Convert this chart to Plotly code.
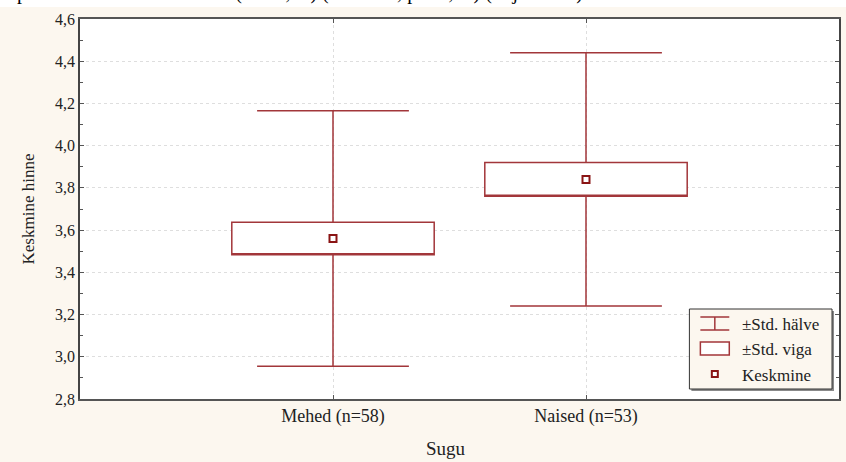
import plotly.graph_objects as go

# ---- data ----
categories = ["Mehed (n=58)", "Naised (n=53)"]
means = [3.56, 3.84]
std_err = [0.077, 0.08]
std_dev = [0.605, 0.60]

y_ticks = [2.8, 3.0, 3.2, 3.4, 3.6, 3.8, 4.0, 4.2, 4.4, 4.6]

legend_labels = ["±Std. hälve", "±Std. viga", "Keskmine"]
x_title = "Sugu"
y_title = "Keskmine hinne"
top_text = "üp  hinnete keskmine erines (t = -2,35) (df = 109; p = 0,02) (vt joonis 1)."

# ---- derived stats ----
q1 = [m - s for m, s in zip(means, std_err)]
q3 = [m + s for m, s in zip(means, std_err)]
lo = [m - s for m, s in zip(means, std_dev)]
hi = [m + s for m, s in zip(means, std_dev)]

RED = "#A2363A"
DARK = "#8A1414"
FONT = "Liberation Serif, Times New Roman, serif"
BG = "#FCF7EF"
TXT = "#222222"

W, H = 846, 462
ML, MR, MT, MB = 80, 5, 19, 63
PW, PH = W - ML - MR, H - MT - MB


def xp(px):
    return (px - ML) / PW


def yp(py):
    return (H - MB - py) / PH


fig = go.Figure()

fig.add_trace(go.Box(
    x=categories,
    q1=q1, median=q1, q3=q3,
    lowerfence=lo, upperfence=hi,
    width=0.8, whiskerwidth=0.75,
    fillcolor="white",
    line=dict(color=RED, width=1.5),
    boxpoints=False,
    hoverinfo="skip",
    showlegend=False,
))

fig.add_trace(go.Scatter(
    x=categories, y=means, mode="markers",
    marker=dict(symbol="square-open", size=7, color=DARK, line=dict(width=2, color=DARK)),
    showlegend=False, hoverinfo="skip",
))

shapes = []
annotations = []

# white strip at top of picture with clipped document text
shapes.append(dict(type="rect", xref="paper", yref="paper",
                   x0=xp(-10), x1=xp(W + 10), y0=yp(7), y1=yp(-10),
                   fillcolor="white", line=dict(width=0), layer="above"))
annotations.append(dict(xref="paper", yref="paper", x=xp(5), y=yp(6),
                        xanchor="left", yanchor="bottom", showarrow=False,
                        text=top_text, font=dict(family=FONT, size=20, color="black")))

# custom legend
lx0, lx1, ly0, ly1 = 691, 834, 309, 389
shapes.append(dict(type="rect", xref="paper", yref="paper",
                   x0=xp(lx0 + 2), x1=xp(lx1 + 2), y0=yp(ly1 + 2), y1=yp(ly0 + 2),
                   fillcolor="#8a8a8a", line=dict(width=0), layer="above"))
shapes.append(dict(type="rect", xref="paper", yref="paper",
                   x0=xp(lx0), x1=xp(lx1), y0=yp(ly1), y1=yp(ly0),
                   fillcolor=BG, line=dict(color="#333333", width=1), layer="above"))
# whisker icon
ix0, ix1, ixc = 702, 731, 716.5
for yy in (317, 330):
    shapes.append(dict(type="line", xref="paper", yref="paper",
                       x0=xp(ix0), x1=xp(ix1), y0=yp(yy), y1=yp(yy),
                       line=dict(color=RED, width=1.5), layer="above"))
shapes.append(dict(type="line", xref="paper", yref="paper",
                   x0=xp(ixc), x1=xp(ixc), y0=yp(317), y1=yp(330),
                   line=dict(color=RED, width=1.5), layer="above"))
# box icon
shapes.append(dict(type="rect", xref="paper", yref="paper",
                   x0=xp(ix0), x1=xp(ix1), y0=yp(355), y1=yp(342),
                   fillcolor="white", line=dict(color=RED, width=1.5), layer="above"))
# mean icon
shapes.append(dict(type="rect", xref="paper", yref="paper",
                   x0=xp(ixc - 3), x1=xp(ixc + 3), y0=yp(377), y1=yp(371),
                   fillcolor="white", line=dict(color=DARK, width=2), layer="above"))
for lab, yy in zip(legend_labels, (324, 349, 375)):
    annotations.append(dict(xref="paper", yref="paper", x=xp(742), y=yp(yy),
                            xanchor="left", yanchor="middle", showarrow=False,
                            text=lab, font=dict(family=FONT, size=17, color=TXT)))

# x axis title
annotations.append(dict(xref="paper", yref="paper", x=xp(447), y=yp(448),
                        xanchor="center", yanchor="middle", showarrow=False,
                        text=x_title, font=dict(family=FONT, size=19, color=TXT)))

fig.update_layout(
    width=W, height=H,
    margin=dict(l=ML, r=MR, t=MT, b=MB, pad=0),
    paper_bgcolor=BG, plot_bgcolor="white",
    separators=", ",
    font=dict(family=FONT, size=16, color=TXT),
    shapes=shapes, annotations=annotations,
    showlegend=False,
    xaxis=dict(
        type="category", range=[-1, 2],
        showline=True, linecolor="#555555", linewidth=1.5, mirror="ticks",
        ticks="inside", ticklen=4, tickcolor="#555555",
        showgrid=True, gridcolor="#dedede", griddash="dot", gridwidth=1,
        zeroline=False,
        tickfont=dict(family=FONT, size=18, color=TXT),
    ),
    yaxis=dict(
        range=[2.8, 4.6], tickvals=y_ticks, tickformat=".1f",
        showline=True, linecolor="#444444", linewidth=1.5, mirror="ticks",
        ticks="inside", ticklen=4, tickcolor="#555555",
        minor=dict(dtick=0.1, ticks="inside", ticklen=3, tickcolor="#555555", showgrid=False),
        showgrid=True, gridcolor="#dedede", griddash="dot", gridwidth=1,
        zeroline=False,
        tickfont=dict(family=FONT, size=16, color=TXT),
        title=dict(text=y_title, standoff=16, font=dict(family=FONT, size=17, color=TXT)),
    ),
)

fig.write_html("out.html", config={"displayModeBar": False},
               post_script="document.body.style.margin='0px';")
